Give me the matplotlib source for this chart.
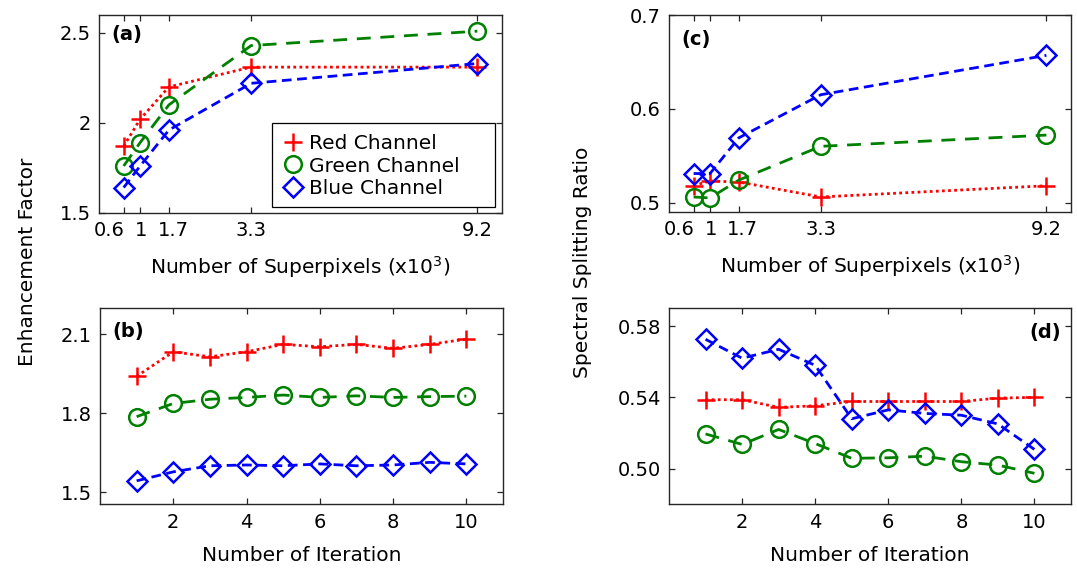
import matplotlib
matplotlib.use("Agg")
import matplotlib.pyplot as plt
from matplotlib.lines import Line2D
from matplotlib.patches import Rectangle
from matplotlib.transforms import ScaledTranslation

plt.rcParams['font.family'] = ['DejaVu Sans']

# ---------------- data ----------------
sp_pos = [0.6, 1.0, 1.7, 3.7, 9.2]
sp_labels = ['0.6', '1', '1.7', '3.3', '9.2']

ef_red = [1.87, 2.02, 2.20, 2.31, 2.31]
ef_green = [1.76, 1.89, 2.10, 2.43, 2.51]
ef_blue = [1.64, 1.76, 1.96, 2.22, 2.33]

ssr_red = [0.518, 0.523, 0.522, 0.506, 0.518]
ssr_green = [0.506, 0.505, 0.524, 0.560, 0.572]
ssr_blue = [0.531, 0.531, 0.569, 0.615, 0.657]

iters = [1, 2, 3, 4, 5, 6, 7, 8, 9, 10]
it_ef_red = [1.94, 2.033, 2.014, 2.033, 2.061, 2.052, 2.061, 2.046, 2.061, 2.081]
it_ef_green = [1.787, 1.837, 1.853, 1.860, 1.869, 1.860, 1.866, 1.860, 1.863, 1.865]
it_ef_blue = [1.544, 1.578, 1.601, 1.604, 1.601, 1.608, 1.601, 1.604, 1.614, 1.608]

it_ssr_red = [0.5387, 0.5387, 0.5344, 0.5353, 0.5377, 0.5377, 0.5377, 0.5377, 0.5396, 0.5400]
it_ssr_green = [0.5195, 0.5136, 0.5220, 0.5141, 0.5058, 0.5061, 0.5070, 0.5039, 0.5020, 0.4974]
it_ssr_blue = [0.5726, 0.5620, 0.5670, 0.5580, 0.5280, 0.5330, 0.5310, 0.5300, 0.5251, 0.5108]

legend_labels = ['Red Channel', 'Green Channel', 'Blue Channel']

# ---------------- styles ----------------
RED = '#FF0000'
GREEN = '#008000'
BLUE = '#0000FF'
FS_TICK = 14
FS_LAB = 14.5
LW = 2.0
MEW = 1.8

red_style = dict(color=RED, linestyle=(0, (1, 1.2)), marker='+', markersize=13,
                 markeredgewidth=MEW, linewidth=LW)
green_style = dict(color=GREEN, linestyle=(0, (5, 3.5)), marker='o', markersize=12,
                   markerfacecolor='none', markeredgewidth=MEW, linewidth=LW)
blue_style = dict(color=BLUE, linestyle=(0, (3.5, 2)), marker='D', markersize=10,
                  markerfacecolor='none', markeredgewidth=MEW, linewidth=LW)

fig = plt.figure(figsize=(10.77, 5.74), dpi=100)

W, H = 1077, 574
def add_ax(l, r, t, b):
    return fig.add_axes([l / W, 1 - b / H, (r - l) / W, (b - t) / H])

ax_a = add_ax(99, 502, 15, 212.7)
ax_b = add_ax(100, 503, 307.7, 504.3)
ax_c = add_ax(669, 1071, 15, 212)
ax_d = add_ax(669, 1071, 308.3, 504.3)

def style_ax(ax):
    for s in ax.spines.values():
        s.set_color('#262626')
        s.set_linewidth(1.0)
    ax.tick_params(direction='in', top=True, right=True, length=4, width=0.9,
                   labelsize=FS_TICK, colors='#262626', labelcolor='black', pad=6)

label_shifts = [-14, 1, 4, 0, 0]  # pixel nudges of superpixel tick labels

def shift_sp_labels(ax):
    for lab, dx in zip(ax.get_xticklabels(), label_shifts):
        lab.set_transform(lab.get_transform() +
                          ScaledTranslation(dx / 100, 0, fig.dpi_scale_trans))

# (a)
ax_a.plot(sp_pos, ef_red, **red_style)
ax_a.plot(sp_pos, ef_green, **green_style)
ax_a.plot(sp_pos, ef_blue, **blue_style)
ax_a.set_xlim(0, 9.8)
ax_a.set_ylim(1.5, 2.6)
ax_a.set_xticks(sp_pos)
ax_a.set_xticklabels(sp_labels)
ax_a.set_yticks([1.5, 2.0, 2.5])
ax_a.set_yticklabels(['1.5', '2', '2.5'])
ax_a.set_xlabel('Number of Superpixels (x10$^3$)', fontsize=FS_LAB, labelpad=10)
style_ax(ax_a)
shift_sp_labels(ax_a)
ax_a.text(0.03, 0.9, '(a)', transform=ax_a.transAxes, fontsize=FS_TICK, fontweight='bold',
          va='center', ha='left')
handles = [Line2D([], [], linestyle='none', **{k: v for k, v in st.items() if k != 'linestyle'})
           for st in (red_style, green_style, blue_style)]
ax_a.add_patch(Rectangle((0.429, 0.029), 0.553, 0.425, transform=ax_a.transAxes,
                         facecolor='white', edgecolor='black', linewidth=0.9, zorder=4))
leg = ax_a.legend(handles, legend_labels, loc='center left', bbox_to_anchor=(0.449, 0.236),
                  borderaxespad=0, borderpad=0, fontsize=FS_LAB, frameon=False,
                  handlelength=1.3, handletextpad=0.15, labelspacing=0.18)
leg.set_zorder(5)

# (b)
ax_b.plot(iters, it_ef_red, **red_style)
ax_b.plot(iters, it_ef_green, **green_style)
ax_b.plot(iters, it_ef_blue, **blue_style)
ax_b.set_xlim(0, 11)
ax_b.set_ylim(1.455, 2.2)
ax_b.set_xticks([2, 4, 6, 8, 10])
ax_b.set_yticks([1.5, 1.8, 2.1])
ax_b.set_yticklabels(['1.5', '1.8', '2.1'])
ax_b.set_xlabel('Number of Iteration', fontsize=FS_LAB, labelpad=10)
style_ax(ax_b)
ax_b.text(0.03, 0.88, '(b)', transform=ax_b.transAxes, fontsize=FS_TICK, fontweight='bold',
          va='center', ha='left')

# (c)
ax_c.plot(sp_pos, ssr_red, **red_style)
ax_c.plot(sp_pos, ssr_green, **green_style)
ax_c.plot(sp_pos, ssr_blue, **blue_style)
ax_c.set_xlim(0, 9.8)
ax_c.set_ylim(0.49, 0.7)
ax_c.set_xticks(sp_pos)
ax_c.set_xticklabels(sp_labels)
ax_c.set_yticks([0.5, 0.6, 0.7])
ax_c.set_yticklabels(['0.5', '0.6', '0.7'])
ax_c.set_xlabel('Number of Superpixels (x10$^3$)', fontsize=FS_LAB, labelpad=10)
style_ax(ax_c)
shift_sp_labels(ax_c)
ax_c.text(0.03, 0.875, '(c)', transform=ax_c.transAxes, fontsize=FS_TICK, fontweight='bold',
          va='center', ha='left')

# (d)
ax_d.plot(iters, it_ssr_red, **red_style)
ax_d.plot(iters, it_ssr_green, **green_style)
ax_d.plot(iters, it_ssr_blue, **blue_style)
ax_d.set_xlim(0, 11)
ax_d.set_ylim(0.48, 0.59)
ax_d.set_xticks([2, 4, 6, 8, 10])
ax_d.set_yticks([0.50, 0.54, 0.58])
ax_d.set_yticklabels(['0.50', '0.54', '0.58'])
ax_d.set_xlabel('Number of Iteration', fontsize=FS_LAB, labelpad=10)
style_ax(ax_d)
ax_d.text(0.975, 0.875, '(d)', transform=ax_d.transAxes, fontsize=FS_TICK, fontweight='bold',
          va='center', ha='right')

fig.text(28 / W, 1 - 262 / H, 'Enhancement Factor', rotation=90, fontsize=FS_LAB,
         ha='center', va='center')
fig.text(583 / W, 1 - 262 / H, 'Spectral Splitting Ratio', rotation=90, fontsize=FS_LAB,
         ha='center', va='center')

fig.savefig('out.png', dpi=100)
